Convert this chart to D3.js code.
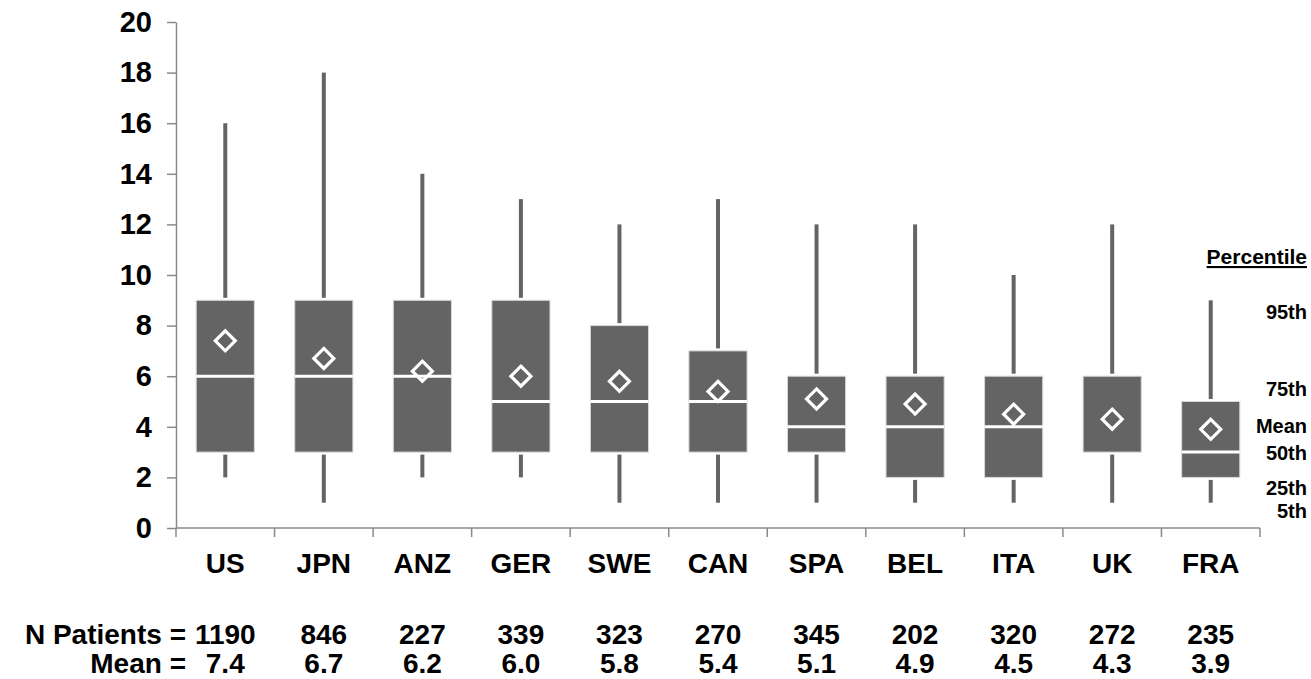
<!DOCTYPE html>
<html>
<head>
<meta charset="utf-8">
<script src="https://cdn.jsdelivr.net/npm/d3@7"></script>
<style>
  html, body { margin: 0; padding: 0; background: #fff; }
  svg { display: block; font-family: "Liberation Sans", Arial, sans-serif; font-weight: bold; }
</style>
</head>
<body>
<svg id="chart" width="1311" height="679"></svg>
<script>
// Countries along the x axis
const countries = ["US", "JPN", "ANZ", "GER", "SWE", "CAN", "SPA", "BEL", "ITA", "UK", "FRA"];
// Percentile summaries per country
const p5     = [2, 1, 2, 2, 1, 1, 1, 1, 1, 1, 1];
const p25    = [3, 3, 3, 3, 3, 3, 3, 2, 2, 3, 2];
const p50    = [6, 6, 6, 5, 5, 5, 4, 4, 4, 3, 3];
const p75    = [9, 9, 9, 9, 8, 7, 6, 6, 6, 6, 5];
const p95    = [16, 18, 14, 13, 12, 13, 12, 12, 10, 12, 9];
const means  = [7.4, 6.7, 6.2, 6.0, 5.8, 5.4, 5.1, 4.9, 4.5, 4.3, 3.9];
const nPatients = [1190, 846, 227, 339, 323, 270, 345, 202, 320, 272, 235];
// Y axis tick values
const yTicks = [0, 2, 4, 6, 8, 10, 12, 14, 16, 18, 20];
// Key labels beside the last box, with the value each one sits at
const keyLabels = ["95th", "75th", "Mean", "50th", "25th", "5th"];
const keyValues = [8.55, 5.5, 4.05, 2.97, 1.6, 0.68];

const svg = d3.select("#chart");
const boxColor = "#646464";
const axisColor = "#8a8a8a";
const fontFamily = '"Liberation Sans", Arial, sans-serif';

const x = d3.scaleBand().domain(countries).range([176, 1260]).padding(0);
const y = d3.scaleLinear().domain([0, 20]).range([528, 22]);

const boxW = x.bandwidth() * 0.59;
const whiskerW = 4;
const gap = 2.5;

// Y axis
const yAxis = svg.append("g")
  .attr("transform", `translate(${x.range()[0]},0)`)
  .call(d3.axisLeft(y).tickValues(yTicks).tickSize(9).tickPadding(15).tickSizeOuter(0));
yAxis.select(".domain").attr("stroke", axisColor).attr("stroke-width", 1.5);
yAxis.selectAll(".tick line").attr("stroke", axisColor).attr("stroke-width", 1.5);
yAxis.selectAll(".tick text")
  .attr("fill", "#000")
  .style("font-size", "29px")
  .style("font-weight", "bold")
  .style("font-family", fontFamily);

// X axis line with ticks at category boundaries
const xAxis = svg.append("g");
xAxis.append("line")
  .attr("x1", x.range()[0]).attr("x2", x.range()[1])
  .attr("y1", y(0)).attr("y2", y(0))
  .attr("stroke", axisColor).attr("stroke-width", 1.5);
const boundaries = countries.map(c => x(c)).concat([x.range()[1]]);
xAxis.selectAll("line.bt").data(boundaries).join("line")
  .attr("class", "bt")
  .attr("x1", d => d).attr("x2", d => d)
  .attr("y1", y(0)).attr("y2", y(0) + 9)
  .attr("stroke", axisColor).attr("stroke-width", 1.5);

// Category labels
xAxis.selectAll("text.cat").data(countries).join("text")
  .attr("class", "cat")
  .attr("x", d => x(d) + x.bandwidth() / 2)
  .attr("y", 573)
  .attr("text-anchor", "middle")
  .style("font-size", "28px")
  .text(d => d);

// Boxes
const rows = countries.map((c, i) => ({
  c, p5: p5[i], p25: p25[i], p50: p50[i], p75: p75[i], p95: p95[i], mean: means[i], n: nPatients[i]
}));

const g = svg.append("g");
const cx = d => x(d.c) + x.bandwidth() / 2;

// Upper whiskers
g.selectAll("rect.wu").data(rows).join("rect")
  .attr("class", "wu")
  .attr("x", d => cx(d) - whiskerW / 2)
  .attr("y", d => y(d.p95))
  .attr("width", whiskerW)
  .attr("height", d => y(d.p75) - y(d.p95) - gap)
  .attr("fill", boxColor);
// Lower whiskers
g.selectAll("rect.wl").data(rows).join("rect")
  .attr("class", "wl")
  .attr("x", d => cx(d) - whiskerW / 2)
  .attr("y", d => y(d.p25) + gap)
  .attr("width", whiskerW)
  .attr("height", d => y(d.p5) - y(d.p25) - gap)
  .attr("fill", boxColor);
// Interquartile boxes
g.selectAll("rect.box").data(rows).join("rect")
  .attr("class", "box")
  .attr("x", d => cx(d) - boxW / 2)
  .attr("y", d => y(d.p75))
  .attr("width", boxW)
  .attr("height", d => y(d.p25) - y(d.p75))
  .attr("fill", boxColor)
  .attr("stroke", "#d8d8d8")
  .attr("stroke-width", 1);
// Medians (skipped where the median sits on a box edge)
g.selectAll("line.med").data(rows.filter(d => d.p50 > d.p25 && d.p50 < d.p75)).join("line")
  .attr("class", "med")
  .attr("x1", d => cx(d) - boxW / 2).attr("x2", d => cx(d) + boxW / 2)
  .attr("y1", d => y(d.p50)).attr("y2", d => y(d.p50))
  .attr("stroke", "#fff").attr("stroke-width", 3);
// Mean diamonds
const dr = 10;
g.selectAll("path.mean").data(rows).join("path")
  .attr("class", "mean")
  .attr("d", d => {
    const px = cx(d), py = y(d.mean);
    return `M${px},${py - dr}L${px + dr},${py}L${px},${py + dr}L${px - dr},${py}Z`;
  })
  .attr("fill", "none")
  .attr("stroke", "#fff")
  .attr("stroke-width", 3.2);

// Key labels
const key = svg.append("g");
key.append("text")
  .attr("x", 1307).attr("y", 264)
  .attr("text-anchor", "end")
  .style("font-size", "21px")
  .style("text-decoration", "underline")
  .text("Percentile");
key.selectAll("text.k").data(keyLabels).join("text")
  .attr("class", "k")
  .attr("x", 1307)
  .attr("y", (d, i) => y(keyValues[i]))
  .attr("dy", "0.36em")
  .attr("text-anchor", "end")
  .style("font-size", "20px")
  .text(d => d);

// Counts and means under the axis
const foot = svg.append("g").style("font-size", "28px");
foot.append("text").attr("x", 186).attr("y", 644).attr("text-anchor", "end").text("N Patients =");
foot.append("text").attr("x", 186).attr("y", 673).attr("text-anchor", "end").text("Mean =");
foot.selectAll("text.n").data(rows).join("text")
  .attr("class", "n")
  .attr("x", d => cx(d)).attr("y", 644)
  .attr("text-anchor", "middle")
  .text(d => d.n);
foot.selectAll("text.m").data(rows).join("text")
  .attr("class", "m")
  .attr("x", d => cx(d)).attr("y", 673)
  .attr("text-anchor", "middle")
  .text(d => d.mean.toFixed(1));
</script>
</body>
</html>
